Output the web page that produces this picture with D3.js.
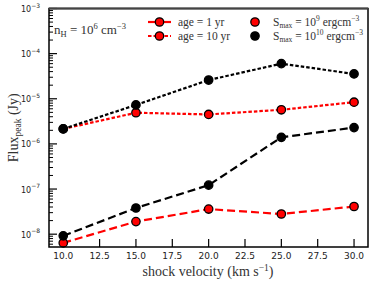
<!DOCTYPE html>
<html>
<head>
<meta charset="utf-8">
<script src="https://cdn.jsdelivr.net/npm/d3@7"></script>
<style>
  body { margin: 0; background: #fff; }
  svg { display: block; }
  .tick-lab { font-family: "DejaVu Sans", sans-serif; fill: #222; }
  .serif { font-family: "Liberation Serif", "DejaVu Serif", serif; fill: #333; }
</style>
</head>
<body>
<div id="chart"></div>
<script>
// shock velocities (km/s)
var velocities = [10, 15, 20, 25, 30];

// peak flux (Jy) per model
var age1_S9  = [6.4e-9, 1.9e-8, 3.6e-8, 2.8e-8, 4.1e-8];
var age1_S10 = [9.2e-9, 3.8e-8, 1.22e-7, 1.4e-6, 2.3e-6];
var age10_S9  = [2.15e-6, 4.9e-6, 4.5e-6, 5.7e-6, 8.4e-6];
var age10_S10 = [2.15e-6, 7.3e-6, 2.6e-5, 6.0e-5, 3.55e-5];

var xTicks = [10, 12.5, 15, 17.5, 20, 22.5, 25, 27.5, 30];
var yExps = [-8, -7, -6, -5, -4, -3];

var series = [
  {values: age1_S9,  color: "#ff0000", dash: "8,4"},
  {values: age1_S10, color: "#000000", dash: "8,4"},
  {values: age10_S9,  color: "#ff0000", dash: "3.5,2"},
  {values: age10_S10, color: "#000000", dash: "3.5,2"}
];

var W = 374, H = 284;
var m = {left: 49, right: 6, top: 8.5, bottom: 37};
var w = W - m.left - m.right, h = H - m.top - m.bottom;

var svg = d3.select("#chart").append("svg").attr("width", W).attr("height", H);
var g = svg.append("g").attr("transform", "translate(" + m.left + "," + m.top + ")");

var x = d3.scaleLinear().domain([9.02, 30.96]).range([0, w]);
var y = d3.scaleLog().domain([5.2e-9, 1e-3]).range([h, 0]);

// x ticks (inside)
var xa = g.append("g");
xTicks.forEach(function (t) {
  xa.append("line").attr("x1", x(t)).attr("x2", x(t)).attr("y1", h).attr("y2", h - 8)
    .attr("stroke", "#000").attr("stroke-width", 1.2);
  xa.append("text").attr("class", "tick-lab").attr("x", x(t)).attr("y", h + 12)
    .attr("font-size", "9px").attr("text-anchor", "middle").text(t.toFixed(1));
});

// y ticks: major and minor (inside)
var ya = g.append("g");
for (var e = -9; e <= -4; e++) {
  for (var k = 2; k <= 9; k++) {
    var v = k * Math.pow(10, e);
    if (v < y.domain()[0] || v > y.domain()[1]) continue;
    ya.append("line").attr("x1", 0).attr("x2", 4).attr("y1", y(v)).attr("y2", y(v))
      .attr("stroke", "#000").attr("stroke-width", 1);
  }
}
yExps.forEach(function (ex) {
  var v = Math.pow(10, ex);
  ya.append("line").attr("x1", 0).attr("x2", 8).attr("y1", y(v)).attr("y2", y(v))
    .attr("stroke", "#000").attr("stroke-width", 1.2);
  var t = ya.append("text").attr("class", "tick-lab").attr("x", -9).attr("y", y(v) + 3.5)
    .attr("font-size", "8px").attr("text-anchor", "end");
  t.append("tspan").text("10");
  t.append("tspan").attr("dy", -4.5).attr("font-size", "6px").text("\u2212" + (-ex));
});

// lines and markers
var line = d3.line().x(function (d) { return x(d[0]); }).y(function (d) { return y(d[1]); });
series.forEach(function (s) {
  var pts = velocities.map(function (v, i) { return [v, s.values[i]]; });
  g.append("path").attr("d", line(pts)).attr("fill", "none")
    .attr("stroke", s.color).attr("stroke-width", 2.2).attr("stroke-dasharray", s.dash);
});
series.forEach(function (s) {
  g.selectAll(null).data(velocities).enter().append("circle")
    .attr("cx", function (d) { return x(d); })
    .attr("cy", function (d, i) { return y(s.values[i]); })
    .attr("r", 4.2).attr("fill", s.color).attr("stroke", "#000").attr("stroke-width", 1.3);
});

// frame
g.append("rect").attr("width", w).attr("height", h).attr("fill", "none")
  .attr("stroke", "#000").attr("stroke-width", 1.5);
g.append("line").attr("x1", 0).attr("x2", w).attr("y1", 0).attr("y2", 0)
  .attr("stroke", "#444").attr("stroke-width", 2.2);

// annotation
var ann = g.append("text").attr("class", "serif").attr("x", 5).attr("y", 25.5).attr("font-size", "13px");
ann.append("tspan").text("n");
ann.append("tspan").attr("dy", 3).attr("font-size", "8.5px").text("H");
ann.append("tspan").attr("dy", -3).text(" = 10");
ann.append("tspan").attr("dy", -5.5).attr("font-size", "8.5px").text("6");
ann.append("tspan").attr("dy", 5.5).text(" cm");
ann.append("tspan").attr("dy", -5.5).attr("font-size", "8.5px").text("\u22123");

// legend
var lg = svg.append("g");
var legLines = [
  {label: "age = 1 yr", dash: null, yy: 22},
  {label: "age = 10 yr", dash: "3.5,2", yy: 36}
];
legLines.forEach(function (d) {
  lg.append("line").attr("x1", 148).attr("x2", 171).attr("y1", d.yy).attr("y2", d.yy)
    .attr("stroke", "#ff0000").attr("stroke-width", 2.2).attr("stroke-dasharray", d.dash);
  lg.append("circle").attr("cx", 159.5).attr("cy", d.yy).attr("r", 4.2)
    .attr("fill", "#ff0000").attr("stroke", "#000").attr("stroke-width", 1.3);
  lg.append("text").attr("class", "serif").attr("x", 178).attr("y", d.yy + 3.5)
    .attr("font-size", "11.5px").text(d.label);
});
var legMarks = [
  {exp: "9", color: "#ff0000", yy: 22},
  {exp: "10", color: "#000000", yy: 36}
];
legMarks.forEach(function (d) {
  lg.append("circle").attr("cx", 255).attr("cy", d.yy).attr("r", 4.2)
    .attr("fill", d.color).attr("stroke", "#000").attr("stroke-width", 1.3);
  var t = lg.append("text").attr("class", "serif").attr("x", 273).attr("y", d.yy + 3.5)
    .attr("font-size", "11.5px");
  t.append("tspan").text("S");
  t.append("tspan").attr("dy", 2.5).attr("font-size", "7.5px").text("max");
  t.append("tspan").attr("dy", -2.5).text(" = 10");
  t.append("tspan").attr("dy", -4.5).attr("font-size", "7.5px").text(d.exp);
  t.append("tspan").attr("dy", 4.5).text(" ergcm");
  t.append("tspan").attr("dy", -4.5).attr("font-size", "7.5px").text("\u22123");
});

// axis labels
var xl = svg.append("text").attr("class", "serif").attr("x", 208).attr("y", 276)
  .attr("text-anchor", "middle").attr("font-size", "14px");
xl.append("tspan").text("shock velocity (km s");
xl.append("tspan").attr("dy", -5.5).attr("font-size", "9.5px").text("\u22121");
xl.append("tspan").attr("dy", 5.5).text(")");

var yl = svg.append("text").attr("class", "serif")
  .attr("transform", "translate(18," + (m.top + h / 2) + ") rotate(-90)")
  .attr("text-anchor", "middle").attr("font-size", "14px");
yl.append("tspan").text("Flux");
yl.append("tspan").attr("dy", 3).attr("font-size", "9.5px").text("peak");
yl.append("tspan").attr("dy", -3).text(" (Jy)");
</script>
</body>
</html>
